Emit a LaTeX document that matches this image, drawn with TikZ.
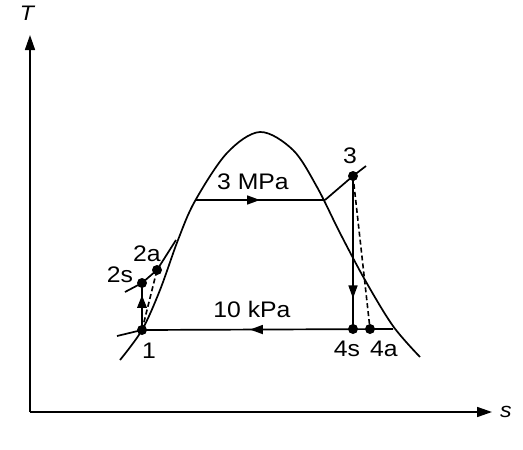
\documentclass[tikz,border=0pt]{standalone}
\usepackage{fontspec}
\setmainfont{Liberation Sans}
\usetikzlibrary{arrows.meta,decorations.markings}
\tikzset{
  dot/.style={circle,fill=black,inner sep=0pt,minimum size=10pt},
  lbl/.style={font=\fontsize{22.5}{26}\selectfont,inner sep=0pt,xscale=1.1},
  axis/.style={line width=1.6pt,-{Triangle[length=15pt,width=10pt]}},
  curve/.style={line width=1.7pt},
  midarrow/.style={postaction={decorate,decoration={markings,
      mark=at position #1 with {\arrow{Triangle[length=13pt,width=9pt]}}}}},
  dashline/.style={line width=1.6pt,dash pattern=on 5pt off 3pt}
}
\begin{document}
\begin{tikzpicture}[x=1pt,y=-1pt]
\useasboundingbox (0,0) rectangle (523,450);
% axes
\coordinate (O) at (30,412);
\coordinate (Ttip) at (30,35);
\coordinate (Stip) at (492,412);
\draw[axis] (O) -- (Ttip);
\draw[axis] (O) -- (Stip);
\node[lbl,font=\fontsize{21}{24}\selectfont\itshape] (T) at (27,13) {T};
\node[lbl,font=\fontsize{21}{24}\selectfont\itshape] (S) at (506,412) {s};
% dome
\draw[curve] plot[smooth,tension=0.55] coordinates {(120,360) (142,330) (160,290) (178,240) (195,201) (227,153) (260,132) (293,150) (317,187) (340,233) (365,280) (393,326) (420,357)};
% points
\node[dot] (p1) at (142,330) {};
\node[dot] (p2s) at (142,283) {};
\node[dot] (p2a) at (157,270) {};
\node[dot] (p3) at (353,176) {};
\node[dot] (p4s) at (353,329) {};
\node[dot] (p4a) at (370,329) {};
\coordinate (fL) at (195,200);
\coordinate (fR) at (325,200);
\coordinate (bR) at (393,329);
\coordinate (e3) at (366,166);
\coordinate (iso2) at (125,292);
\coordinate (iso2b) at (176,240);
\coordinate (iso1) at (117,336);
% isobars
\draw[curve] (iso2) -- (p2s.center) -- (p2a.center) -- (iso2b);
\draw[curve] (iso1) -- (p1.center);
\draw[curve,midarrow=0.5] (fL) -- (fR);
\draw[curve] (fR) -- (p3.center) -- (e3);
\draw[curve,midarrow=0.57] (bR) -- (p1.center);
% processes
\draw[line width=2.8pt,midarrow=0.75] (p1.center) -- (p2s.center);
\draw[dashline] (p1.center) -- (p2a.center);
\draw[curve,midarrow=0.8] (p3.center) -- (p4s.center);
\draw[dashline] (p3.center) -- (p4a.center);
% labels
\node[lbl] (l3m) at (253,182) {3 MPa};
\node[lbl] (l10k) at (252,309) {10 kPa};
\node[lbl] (l2a) at (147,254) {2a};
\node[lbl] (l2s) at (120,275) {2s};
\node[lbl] (l1) at (149,351) {1};
\node[lbl] (l3) at (350,156) {3};
\node[lbl] (l4s) at (347,349) {4s};
\node[lbl] (l4a) at (384,349) {4a};
\end{tikzpicture}
\end{document}
